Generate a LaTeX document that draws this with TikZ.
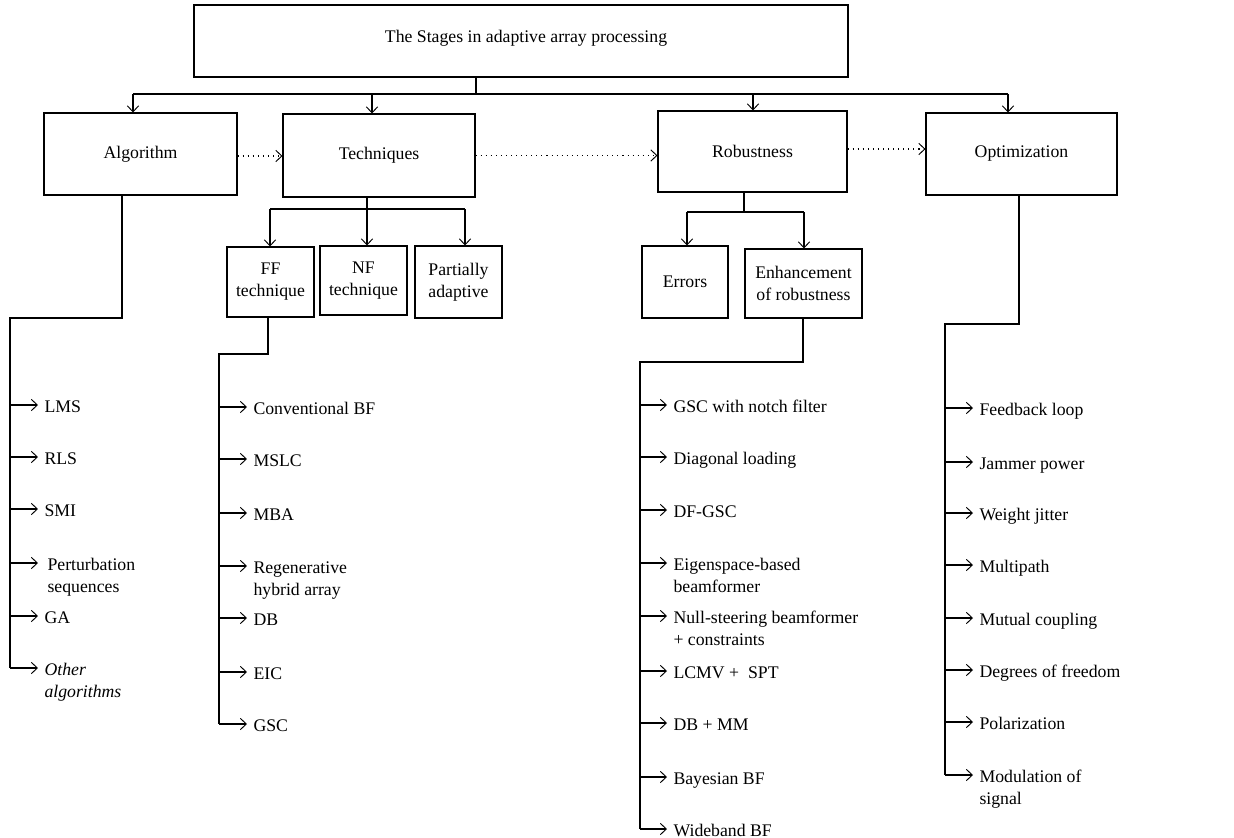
\documentclass[tikz,border=0pt]{standalone}
\usepackage{fontspec}
\setmainfont{Liberation Serif}
\usetikzlibrary{arrows.meta}
\newdimen\px \px=0.75pt
\newcommand\itm[5]{%
  \node[item] (#1) at (#3,#4+7) {#5};
  \draw[->] (#2,#4) coordinate (#1s) -- (#1s -| #1.west);
}
\newcommand\two[2]{\parbox[t]{5cm}{\raggedright #1\\#2}}
\begin{document}
\begin{tikzpicture}[x=0.75pt,y=-0.75pt,
  line width=0.8pt,
  >={Straight Barb[length=4.5pt,width=8.5pt,line width=0.7pt]},
  txt/.style={font=\fontsize{13.3}{16.5}\selectfont},
  box/.style={draw, txt, align=center, inner sep=0pt},
  item/.style={txt, anchor=base west, inner xsep=4.5pt, inner ysep=0pt},
  dots/.style={dash pattern=on 0.8pt off 3pt, ->},
]
\useasboundingbox (0,0) rectangle (1234,838);

% main boxes
\node[box, minimum width=654\px, minimum height=72\px, text height=9pt, text depth=6pt] (top) at (521,41) {\hspace*{10\px}The Stages in adaptive array processing};
\node[box, minimum width=193\px, minimum height=82\px] (alg) at (140.5,154) {Algorithm};
\node[box, minimum width=192\px, minimum height=83\px] (tech) at (379,155.5) {Techniques};
\node[box, minimum width=189\px, minimum height=81\px] (rob) at (752.5,151.5) {Robustness};
\node[box, minimum width=191\px, minimum height=82\px] (opt) at (1021.5,154) {Optimization};

% sub boxes
\node[box, minimum width=87\px, minimum height=70\px] (ff) at (270.5,282) {FF\\technique};
\node[box, minimum width=87\px, minimum height=69\px] (nf) at (363.5,280.5) {NF\\technique};
\node[box, minimum width=87\px, minimum height=72\px] (pa) at (458.5,282) {Partially\\adaptive};
\node[box, minimum width=86\px, minimum height=72\px] (err) at (685,282) {Errors};
\node[box, minimum width=117\px, minimum height=69\px] (enh) at (803.5,283.5) {Enhancement\\of robustness};

% top distribution
\coordinate (tj) at (476,94);
\coordinate (ja) at (133,94);
\coordinate (jt) at (372,94);
\coordinate (jr) at (753,94);
\coordinate (jo) at (1008,94);
\draw (top.south -| tj) -- (tj);
\draw (ja) -- (jo);
\draw[->] (ja) -- (ja |- alg.north);
\draw[->] (jt) -- (jt |- tech.north);
\draw[->] (jr) -- (jr |- rob.north);
\draw[->] (jo) -- (jo |- opt.north);

% dotted arrows
\draw[dots] ([yshift=-2\px]alg.east) -- ([yshift=-2\px]alg.east -| tech.west);
\draw[dots] ([yshift=0\px]tech.east) -- ([yshift=0\px]tech.east -| rob.west);
\draw[dots] ([yshift=2.5\px]rob.east) -- ([yshift=2.5\px]rob.east -| opt.west);

% techniques branching
\coordinate (tk) at (367,209);
\coordinate (tkf) at (270,209);
\coordinate (tkp) at (465,209);
\draw (tech.south -| tk) -- (tk);
\draw (tkf) -- (tkp);
\draw[->] (tkf) -- (tkf |- ff.north);
\draw[->] (tk) -- (tk |- nf.north);
\draw[->] (tkp) -- (tkp |- pa.north);

% robustness branching
\coordinate (rk) at (744,212);
\coordinate (rke) at (687,212);
\coordinate (rkn) at (804,212);
\draw (rob.south -| rk) -- (rk);
\draw (rke) -- (rkn);
\draw[->] (rke) -- (rke |- err.north);
\draw[->] (rkn) -- (rkn |- enh.north);

% algorithm trunk
\coordinate (a1) at (122,318);
\coordinate (a2) at (10,318);
\coordinate (a3) at (10,668);
\draw (alg.south -| a1) -- (a1) -- (a2) -- (a3);
\itm{lms}{10}{38}{405}{LMS}
\itm{rls}{10}{38}{457}{RLS}
\itm{smi}{10}{38}{509}{SMI}
\itm{pert}{10}{38}{563}{\two{\hspace*{3\px}Perturbation}{\hspace*{3\px}sequences}}
\itm{ga}{10}{38}{616}{GA}
\itm{oth}{10}{38}{668}{\two{\itshape Other}{\itshape algorithms}}

% FF trunk
\coordinate (f1) at (268,354);
\coordinate (f2) at (219,354);
\coordinate (f3) at (219,724);
\draw (ff.south -| f1) -- (f1) -- (f2) -- (f3);
\itm{conv}{219}{247}{407}{Conventional BF}
\itm{mslc}{219}{247}{459}{MSLC}
\itm{mba}{219}{247}{513}{MBA}
\itm{regen}{219}{247}{566}{\two{Regenerative}{hybrid array}}
\itm{db}{219}{247}{618}{DB}
\itm{eic}{219}{247}{672}{EIC}
\itm{gsc}{219}{247}{724}{GSC}

% enhancement trunk
\coordinate (e1) at (803,362);
\coordinate (e2) at (640,362);
\coordinate (e3) at (640,829);
\draw (enh.south -| e1) -- (e1) -- (e2) -- (e3);
\itm{notch}{640}{667}{405}{GSC with notch filter}
\itm{diag}{640}{667}{457}{Diagonal loading}
\itm{dfgsc}{640}{667}{510}{DF-GSC}
\itm{eig}{640}{667}{563}{\two{Eigenspace-based}{beamformer}}
\itm{null}{640}{667}{616}{\two{Null-steering beamformer}{+ constraints}}
\itm{lcmv}{640}{667}{671}{LCMV +\ \ SPT}
\itm{dbmm}{640}{667}{723}{DB + MM}
\itm{bay}{640}{667}{777}{Bayesian BF}
\itm{wide}{640}{667}{829}{Wideband BF}

% optimization trunk
\coordinate (o1) at (1019,324);
\coordinate (o2) at (945,324);
\coordinate (o3) at (945,775);
\draw (opt.south -| o1) -- (o1) -- (o2) -- (o3);
\itm{feed}{945}{973}{408}{Feedback loop}
\itm{jam}{945}{973}{462}{Jammer power}
\itm{wj}{945}{973}{513}{Weight jitter}
\itm{mp}{945}{973}{565}{Multipath}
\itm{mc}{945}{973}{618}{Mutual coupling}
\itm{dof}{945}{973}{670}{Degrees of freedom}
\itm{pol}{945}{973}{722}{Polarization}
\itm{mod}{945}{973}{775}{\two{Modulation of}{signal}}
\end{tikzpicture}
\end{document}
